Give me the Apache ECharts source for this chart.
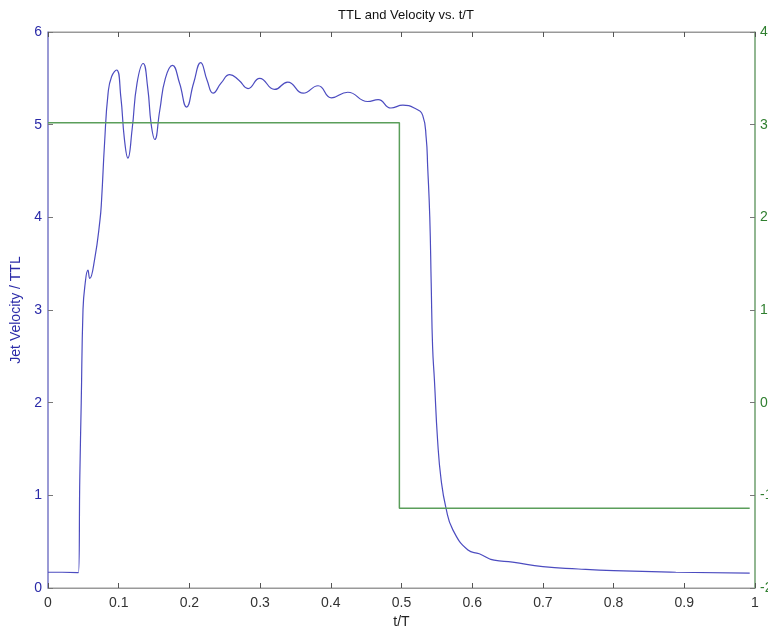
<!DOCTYPE html>
<html>
<head>
<meta charset="utf-8">
<script src="https://cdn.jsdelivr.net/npm/echarts@6/dist/echarts.min.js"></script>
<style>html,body{margin:0;padding:0;background:#fff;overflow:hidden}#c{width:768px;height:632px}</style>
</head>
<body>
<div id="c"></div>
<script>
// Jet velocity (left axis)
const velT = [0, 0.02, 0.043, 0.045, 0.047, 0.0495, 0.052, 0.0565, 0.059, 0.066, 0.0735, 0.0758, 0.080, 0.085, 0.090, 0.097, 0.103, 0.108, 0.113, 0.119, 0.126, 0.1346, 0.141, 0.146, 0.151, 0.158, 0.166, 0.176, 0.186, 0.196, 0.206, 0.216, 0.225, 0.2335, 0.245, 0.257, 0.270, 0.283, 0.2994, 0.3206, 0.339, 0.361, 0.382, 0.401, 0.424, 0.452, 0.467, 0.485, 0.502, 0.518, 0.530, 0.535, 0.537, 0.540, 0.542, 0.544, 0.5466, 0.551, 0.556, 0.563, 0.5725, 0.594, 0.610, 0.631, 0.657, 0.700, 0.750, 0.800, 0.888, 0.9925];
const velV = [0.17, 0.17, 0.165, 1.2, 2.0, 3.0, 3.25, 3.43, 3.34, 3.55, 3.97, 4.19, 4.8, 5.34, 5.52, 5.59, 5.3, 4.85, 4.64, 4.95, 5.45, 5.66, 5.4, 5.0, 4.84, 5.15, 5.5, 5.64, 5.45, 5.19, 5.45, 5.67, 5.48, 5.34, 5.45, 5.54, 5.48, 5.39, 5.50, 5.38, 5.46, 5.34, 5.42, 5.29, 5.35, 5.25, 5.27, 5.18, 5.21, 5.18, 5.10, 4.85, 4.55, 4.0, 3.29, 2.6, 2.24, 1.60, 1.17, 0.86, 0.63, 0.41, 0.37, 0.30, 0.28, 0.23, 0.205, 0.187, 0.17, 0.16];
// TTL (right axis)
const ttlT = [0, 0.497, 0.497, 0.9925];
const ttlV = [3.02, 3.02, -1.14, -1.14];
// ticks
const xTicks = [0, 0.1, 0.2, 0.3, 0.4, 0.5, 0.6, 0.7, 0.8, 0.9, 1];
const leftTicks = [0, 1, 2, 3, 4, 5, 6];
const rightTicks = [-2, -1, 0, 1, 2, 3, 4];

const BLUE_LINE = '#4c4cc0', BLUE_TXT = '#2a2aa8', BLUE_AX = '#8a8ad8';
const GREEN_LINE = '#5a9e5a', GREEN_TXT = '#2f7f2f', GREEN_AX = '#7fb07f';
const FONT = '"Liberation Sans", Arial, sans-serif';

const chart = echarts.init(document.getElementById('c'), null, {renderer: 'canvas', width: 768, height: 632});
const tickStyle = {show: true, inside: true, length: 5, lineStyle: {color: '#555', width: 1}};
chart.setOption({
  animation: false,
  backgroundColor: '#fff',
  title: {
    text: 'TTL and Velocity vs. t/T', left: 401, top: 4, textAlign: 'center',
    textStyle: {fontFamily: FONT, fontSize: 13, fontWeight: 'normal', color: '#111'}
  },
  grid: {left: 48, right: 13, top: 32, bottom: 44, containLabel: false, outerBoundsMode: 'none',
    show: true, borderColor: '#999', borderWidth: 1},
  xAxis: [{
    type: 'value', min: 0, max: 1, interval: 0.1, position: 'bottom',
    name: 't/T', nameLocation: 'middle', nameGap: 24,
    nameTextStyle: {fontFamily: FONT, fontSize: 14, color: '#222'},
    axisLine: {show: true, onZero: false, lineStyle: {color: '#999'}},
    axisTick: tickStyle,
    splitLine: {show: false},
    axisLabel: {margin: 8, fontFamily: FONT, fontSize: 14, color: '#333',
      formatter: v => { const m = xTicks.find(t => Math.abs(t - v) < 1e-9); return m === undefined ? '' : String(m); }}
  }, {
    type: 'value', min: 0, max: 1, interval: 0.1, position: 'top',
    axisLine: {show: true, onZero: false, lineStyle: {color: '#999'}},
    axisTick: tickStyle, axisLabel: {show: false}, splitLine: {show: false}
  }],
  yAxis: [{
    type: 'value', min: 0, max: 6, interval: 1, position: 'left',
    name: 'Jet Velocity / TTL', nameLocation: 'middle', nameGap: 23,
    nameTextStyle: {fontFamily: FONT, fontSize: 14, color: BLUE_TXT},
    axisLine: {show: true, onZero: false, lineStyle: {color: BLUE_AX, width: 1.5}},
    axisTick: {show: true, inside: true, length: 5, lineStyle: {color: '#777'}},
    splitLine: {show: false},
    axisLabel: {margin: 6, fontFamily: FONT, fontSize: 14, color: BLUE_TXT,
      formatter: v => leftTicks.includes(v) ? String(v) : ''}
  }, {
    type: 'value', min: -2, max: 4, interval: 1, position: 'right',
    axisLine: {show: true, onZero: false, lineStyle: {color: GREEN_AX, width: 1.5}},
    axisTick: {show: true, inside: true, length: 5, lineStyle: {color: '#777'}},
    splitLine: {show: false},
    axisLabel: {margin: 5, fontFamily: FONT, fontSize: 14, color: GREEN_TXT,
      formatter: v => rightTicks.includes(v) ? String(v) : ''}
  }],
  series: [{
    type: 'line', xAxisIndex: 0, yAxisIndex: 0, showSymbol: false,
    smooth: 0.5,
    lineStyle: {color: BLUE_LINE, width: 1.2},
    data: velT.map((t, i) => [t, velV[i]])
  }, {
    type: 'line', xAxisIndex: 0, yAxisIndex: 1, showSymbol: false,
    lineStyle: {color: GREEN_LINE, width: 1.5},
    data: ttlT.map((t, i) => [t, ttlV[i]])
  }]
});
</script>
</body>
</html>
